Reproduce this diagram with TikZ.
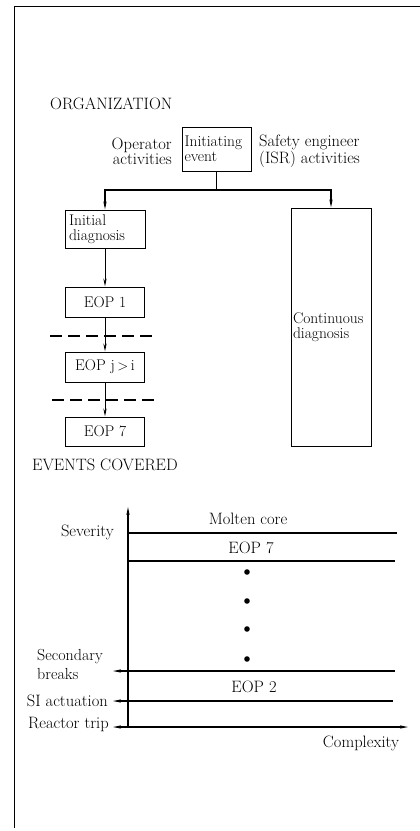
\documentclass[tikz,border=0pt]{standalone}
\usetikzlibrary{arrows.meta}
\begin{document}
\begin{tikzpicture}[x=1pt,y=-1pt,
  txt/.style={font=\fontsize{16.5}{15}\selectfont, inner sep=0pt},
  box/.style={draw, line width=1pt, inner sep=0pt, font=\fontsize{15.5}{15}\selectfont},
  ln/.style={line width=1.2pt},
  tip/.style={-{Stealth[length=8pt,width=3.2pt]}},
  arr/.style={line width=1pt, tip},
  dsh/.style={line width=1.1pt, dash pattern=on 12pt off 6pt},
]
\fill[white] (0,0) rectangle (420,831);
\useasboundingbox (0,0) rectangle (420,831);
% frame
\coordinate (fa) at (14,828);
\coordinate (fb) at (14,6);
\coordinate (fc) at (420,6);
\draw[line width=0.9pt] (fa) -- (fb) -- (fc);

% ORGANIZATION part
\node[txt, anchor=west] (org) at (50,104) {ORGANIZATION};
\node[txt, anchor=east, align=right] (op) at (172,151) {Operator\\activities};
\node[box, minimum width=69pt, minimum height=44pt, align=left, text width=64pt] (ie) at (216.5,149) {Initiating\\event};
\node[txt, anchor=west, align=left] (se) at (259,151) {Safety engineer\\(ISR) activities};
\coordinate (split) at (216.5,190);
\node[box, minimum width=80pt, minimum height=38pt, align=left, text width=72pt] (id) at (105,229) {Initial\\diagnosis};
\node[box, minimum width=80pt, minimum height=238pt, align=left, text width=76pt] (cd) at (331,327) {Continuous\\diagnosis};
\draw[ln] (ie.south) -- (split);
\draw[arr, line width=1.2pt] (split) -| (id.north);
\draw[arr, line width=1.2pt] (split) -| (cd.north);

\node[box, minimum width=79pt, minimum height=30pt] (e1) at (105,302) {EOP 1};
\node[box, minimum width=79pt, minimum height=30pt] (ej) at (105,367) {EOP j\,$>$\,i};
\node[box, minimum width=79pt, minimum height=29pt] (e7) at (105,431.5) {EOP 7};
\draw[arr] (id.south) -- (e1.north);
\draw[arr] (e1.south) -- (ej.north);
\draw[arr] (ej.south) -- (e7.north);
\coordinate (d1a) at (50,336);
\coordinate (d1b) at (155,336);
\coordinate (d2a) at (52,400);
\coordinate (d2b) at (157,400);
\draw[dsh] (d1a) -- (d1b);
\draw[dsh] (d2a) -- (d2b);

% EVENTS COVERED part
\node[txt, anchor=west] (ec) at (32,465) {EVENTS COVERED};
\coordinate (o) at (128,727);
\coordinate (ytop) at (128,507);
\draw[arr, line width=1.2pt] (o) -- (ytop);
\coordinate (mc1) at (128,533);
\coordinate (mc2) at (397,533);
\coordinate (e71) at (128,561);
\coordinate (e72) at (395,561);
\coordinate (sb1) at (113,671);
\coordinate (sb2) at (395,671);
\coordinate (si1) at (113,701);
\coordinate (si2) at (393,701);
\coordinate (rt1) at (113,727);
\coordinate (rt2) at (408,727);
\draw[ln] (mc1) -- (mc2);
\draw[ln] (e71) -- (e72);
\draw[arr, line width=1.2pt] (sb2) -- (sb1);
\draw[arr, line width=1.2pt] (si2) -- (si1);
\draw[line width=1.2pt, {Stealth[length=8pt,width=3.2pt]}-{Stealth[length=8pt,width=3.2pt]}] (rt1) -- (rt2);

\node[txt, anchor=east] (sev) at (114,532) {Severity};
\node[txt] (mc) at (248,519) {Molten core};
\node[txt] (l7) at (251,548) {EOP 7};
\fill (247,572) circle (2.8pt);
\fill (247,601) circle (2.8pt);
\fill (247,629) circle (2.8pt);
\fill (247,659) circle (2.8pt);
\node[txt, anchor=west, align=left, font=\fontsize{16}{19}\selectfont] (sbl) at (37,664) {Secondary\\breaks};
\node[txt] (l2) at (254,687) {EOP 2};
\node[txt, anchor=east] (sil) at (108,701) {SI actuation};
\node[txt, anchor=east] (rtl) at (109,724) {Reactor trip};
\node[txt] (cx) at (361,743) {Complexity};
\end{tikzpicture}
\end{document}
